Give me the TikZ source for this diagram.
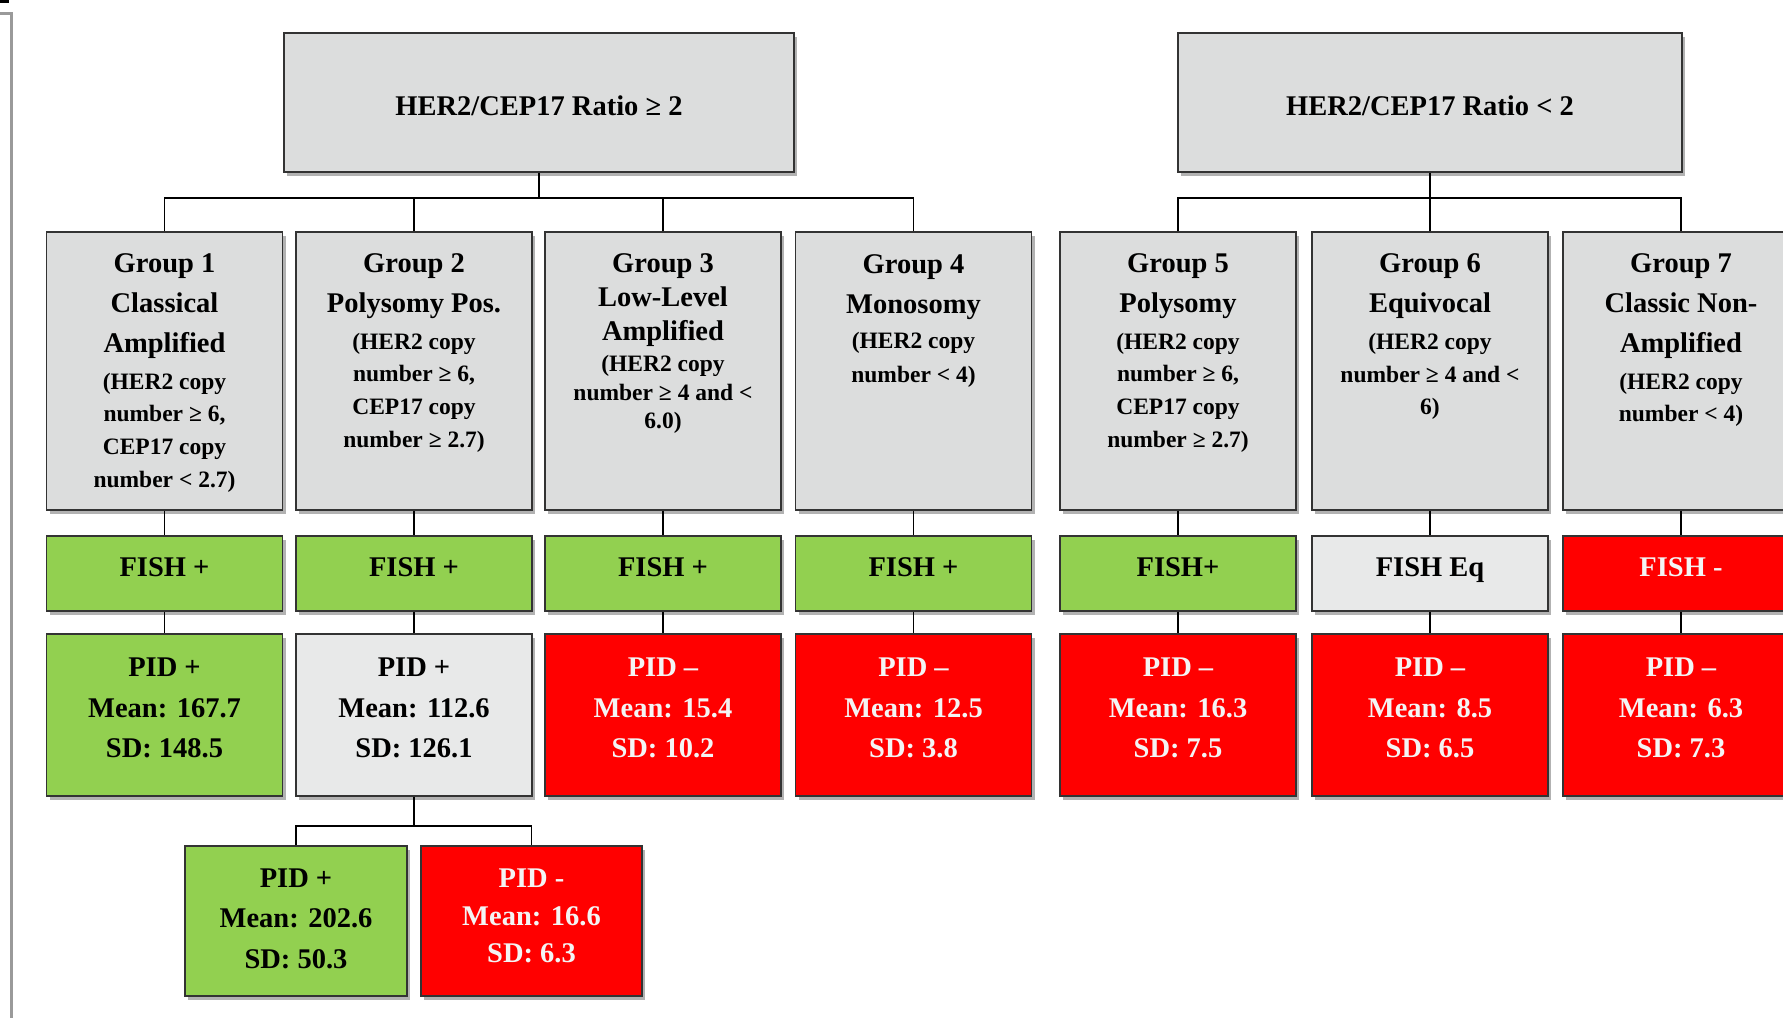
\documentclass[tikz,border=0pt]{standalone}
\usepackage{fontspec}
\setmainfont{Liberation Serif}
\usetikzlibrary{shadows}
\definecolor{boxgray}{HTML}{DCDDDD}
\definecolor{boxlight}{HTML}{E8E9E9}
\definecolor{boxgreen}{HTML}{92D050}
\definecolor{boxred}{HTML}{FF0000}
\definecolor{txtwhite}{HTML}{F4F4F4}
\definecolor{edgegray}{HTML}{333333}
\definecolor{framegray}{HTML}{9A9A9A}
\newcommand\bigf{\fontsize{28.5}{34}\selectfont}
\newcommand\smallf{\fontsize{23.5}{28}\selectfont}
\newcommand\bxl[2]{\hbox to\hsize{\hss\vrule height #1pt depth 0pt width 0pt\smash{#2}\hss}}
\newcommand\bxv[3]{\vbox to #2pt{\hsize=#1pt\offinterlineskip #3\vss}}
\tikzset{
  basebox/.style={draw=edgegray, line width=1.5pt, inner sep=0pt, font=\bfseries,
    drop shadow={shadow xshift=3pt, shadow yshift=-4pt, opacity=0.3, fill=black}},
  graynode/.style={basebox, fill=boxgray},
  lightnode/.style={basebox, fill=boxlight},
  greennode/.style={basebox, fill=boxgreen},
  rednode/.style={basebox, fill=boxred, text=txtwhite},
  conn/.style={draw=black, line width=1.8pt}
}
\begin{document}
\begin{tikzpicture}[x=1pt,y=-1pt]
\useasboundingbox (0,0) rectangle (1783,1018);
\clip (0,0) rectangle (1783,1018);
\fill[white] (0,0) rectangle (1783,1018);
% left frame
\fill[black] (0,0) rectangle (9,3);
\draw[framegray, line width=3pt] (0,13) -- (11,13) -- (11,1018);

% top boxes
\node[graynode] (tl) at (539,102.5) {\bxv{510}{139}{\bxl{82}{\bigf HER2/CEP17 Ratio ≥ 2}}};
\node[graynode] (tr) at (1430,102.5) {\bxv{504}{139}{\bxl{82}{\bigf HER2/CEP17 Ratio < 2}}};

% group boxes
\node[graynode] (g1) at (164.5,371) {\bxv{236}{278}{%
  \bxl{40}{\bigf Group 1}\bxl{40}{\bigf Classical}\bxl{40}{\bigf Amplified}%
  \bxl{37}{\smallf (HER2 copy}\bxl{32}{\smallf number ≥ 6,}\bxl{33}{\smallf CEP17 copy}\bxl{33}{\smallf number < 2.7)}}};
\node[graynode] (g2) at (414,371) {\bxv{236}{278}{%
  \bxl{40}{\bigf Group 2}\bxl{40}{\bigf Polysomy Pos.}%
  \bxl{37}{\smallf (HER2 copy}\bxl{32}{\smallf number ≥ 6,}\bxl{33}{\smallf CEP17 copy}\bxl{33}{\smallf number ≥ 2.7)}}};
\node[graynode] (g3) at (663,371) {\bxv{236}{278}{%
  \bxl{40}{\bigf Group 3}\bxl{34}{\bigf Low-Level}\bxl{34}{\bigf Amplified}%
  \bxl{31}{\smallf (HER2 copy}\bxl{29}{\smallf number ≥ 4 and <}\bxl{28}{\smallf 6.0)}}};
\node[graynode] (g4) at (913.5,371) {\bxv{236}{278}{%
  \bxl{41}{\bigf Group 4}\bxl{40}{\bigf Monosomy}%
  \bxl{35}{\smallf (HER2 copy}\bxl{34}{\smallf number < 4)}}};
\node[graynode] (g5) at (1178,371) {\bxv{236}{278}{%
  \bxl{40}{\bigf Group 5}\bxl{40}{\bigf Polysomy}%
  \bxl{37}{\smallf (HER2 copy}\bxl{32}{\smallf number ≥ 6,}\bxl{33}{\smallf CEP17 copy}\bxl{33}{\smallf number ≥ 2.7)}}};
\node[graynode] (g6) at (1430,371) {\bxv{236}{278}{%
  \bxl{40}{\bigf Group 6}\bxl{40}{\bigf Equivocal}%
  \bxl{37}{\smallf (HER2 copy}\bxl{33}{\smallf number ≥ 4 and <}\bxl{32}{\smallf 6)}}};
\node[graynode] (g7) at (1681,371) {\bxv{236}{278}{%
  \bxl{40}{\bigf Group 7}\bxl{40}{\bigf Classic Non-}\bxl{40}{\bigf Amplified}%
  \bxl{37}{\smallf (HER2 copy}\bxl{32}{\smallf number < 4)}}};

% FISH boxes
\node[greennode] (f1) at (164.5,573.5) {\bxv{236}{75}{\bxl{40}{\bigf FISH +}}};
\node[greennode] (f2) at (414,573.5) {\bxv{236}{75}{\bxl{40}{\bigf FISH +}}};
\node[greennode] (f3) at (663,573.5) {\bxv{236}{75}{\bxl{40}{\bigf FISH +}}};
\node[greennode] (f4) at (913.5,573.5) {\bxv{236}{75}{\bxl{40}{\bigf FISH +}}};
\node[greennode] (f5) at (1178,573.5) {\bxv{236}{75}{\bxl{40}{\bigf FISH+}}};
\node[lightnode] (f6) at (1430,573.5) {\bxv{236}{75}{\bxl{40}{\bigf FISH Eq}}};
\node[rednode] (f7) at (1681,573.5) {\bxv{236}{75}{\bxl{40}{\bigf FISH -}}};

% PID boxes
\node[greennode] (p1) at (164.5,715) {\bxv{236}{162}{\bxl{42}{\bigf PID +}\bxl{41}{\bigf Mean: 167.7}\bxl{40}{\bigf SD: 148.5}}};
\node[lightnode] (p2) at (414,715) {\bxv{236}{162}{\bxl{42}{\bigf PID +}\bxl{41}{\bigf Mean: 112.6}\bxl{40}{\bigf SD: 126.1}}};
\node[rednode] (p3) at (663,715) {\bxv{236}{162}{\bxl{42}{\bigf PID –}\bxl{41}{\bigf Mean: 15.4}\bxl{40}{\bigf SD: 10.2}}};
\node[rednode] (p4) at (913.5,715) {\bxv{236}{162}{\bxl{42}{\bigf PID –}\bxl{41}{\bigf Mean: 12.5}\bxl{40}{\bigf SD: 3.8}}};
\node[rednode] (p5) at (1178,715) {\bxv{236}{162}{\bxl{42}{\bigf PID –}\bxl{41}{\bigf Mean: 16.3}\bxl{40}{\bigf SD: 7.5}}};
\node[rednode] (p6) at (1430,715) {\bxv{236}{162}{\bxl{42}{\bigf PID –}\bxl{41}{\bigf Mean: 8.5}\bxl{40}{\bigf SD: 6.5}}};
\node[rednode] (p7) at (1681,715) {\bxv{236}{162}{\bxl{42}{\bigf PID –}\bxl{41}{\bigf Mean: 6.3}\bxl{40}{\bigf SD: 7.3}}};

% sub boxes
\node[greennode] (s1) at (296,921) {\bxv{222}{150}{\bxl{41}{\bigf PID +}\bxl{40}{\bigf Mean: 202.6}\bxl{41}{\bigf SD: 50.3}}};
\node[rednode] (s2) at (531.5,921) {\bxv{221}{150}{\bxl{41}{\bigf PID -}\bxl{38}{\bigf Mean: 16.6}\bxl{37}{\bigf SD: 6.3}}};

% connectors
\coordinate (barL) at (539,198);
\coordinate (barR) at (1430,198);
\draw[conn] (tl.south) -- (barL);
\draw[conn] (g1.north) -- (g1.north |- barL) -- (g4.north |- barL) -- (g4.north);
\draw[conn] (g2.north) -- (g2.north |- barL);
\draw[conn] (g3.north) -- (g3.north |- barL);
\draw[conn] (tr.south) -- (barR);
\draw[conn] (g5.north) -- (g5.north |- barR) -- (g7.north |- barR) -- (g7.north);
\draw[conn] (g6.north) -- (g6.north |- barR);
\foreach \i in {1,...,7}{
  \draw[conn] (g\i.south) -- (f\i.north);
  \draw[conn] (f\i.south) -- (p\i.north);
}
\coordinate (barS) at (414,826);
\draw[conn] (p2.south) -- (barS);
\draw[conn] (s1.north) -- (s1.north |- barS) -- (s2.north |- barS) -- (s2.north);
\end{tikzpicture}
\end{document}
